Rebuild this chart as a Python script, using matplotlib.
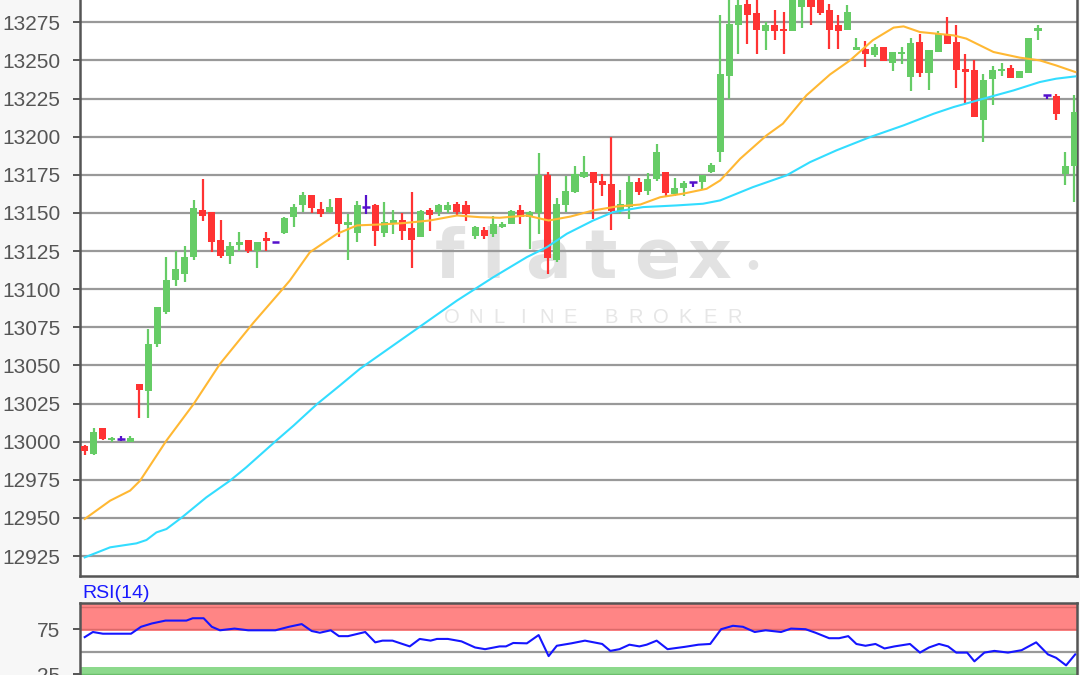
import matplotlib
matplotlib.use("Agg")
import matplotlib.pyplot as plt
import numpy as np

# OHLC
opens = [12997, 12992, 13009, 13001.5, 13002, 13000, 13038, 13033, 13064, 13085,
         13106, 13110, 13121, 13152, 13150.5, 13132, 13122, 13129, 13132, 13125,
         13133.5, 13131, 13136.5, 13147, 13155, 13162, 13152.5, 13150.5, 13159.5, 13142,
         13136.5, 13154, 13155, 13136.5, 13143, 13145.5, 13140, 13134, 13152, 13150.5,
         13152, 13156, 13155.5, 13135, 13139, 13136, 13141, 13143, 13152, 13147,
         13150, 13175, 13119, 13155, 13163.5, 13173.5, 13176.5, 13171, 13169, 13151.5,
         13154, 13170, 13164.5, 13172, 13176.5, 13162.5, 13166, 13170, 13170, 13176.5,
         13190, 13240, 13273, 13287, 13281, 13269.5, 13273, 13270, 13269.5, 13285,
         13293, 13296, 13283, 13273, 13270, 13257, 13257.5, 13253.5, 13259, 13248.5,
         13254, 13239, 13262, 13241.5, 13255.5, 13267.5, 13262, 13243.5, 13244, 13211,
         13237.5, 13243.5, 13245, 13238.5, 13241.5, 13269.5, 13227, 13226.5, 13175.5, 13181]
highs = [12998, 13009, 13009, 13003, 13003.5, 13004, 13038, 13074, 13088, 13121,
         13125, 13128, 13158.5, 13172, 13150.5, 13145.5, 13131, 13137.5, 13132, 13131,
         13137.5, 13131, 13147, 13156, 13163.5, 13162, 13157, 13159, 13159.5, 13149.5,
         13158, 13162, 13156, 13157, 13152, 13150, 13163.5, 13152, 13153, 13156,
         13157, 13157, 13158, 13141.5, 13141, 13148, 13144, 13152, 13155, 13151,
         13189, 13177, 13160, 13174.5, 13181, 13187.5, 13176.5, 13175.5, 13199.5, 13165,
         13174, 13173, 13176, 13195, 13176.5, 13173, 13171, 13170, 13175, 13183,
         13279.5, 13292, 13295, 13295, 13292, 13275, 13283, 13282, 13300, 13305,
         13298, 13300, 13287, 13280, 13286, 13265, 13263, 13261, 13259, 13255.5,
         13259, 13264.5, 13267, 13256.5, 13269, 13278.5, 13273, 13254.5, 13250, 13241,
         13246, 13248, 13247, 13243, 13265, 13273, 13227, 13228, 13190, 13227.5]
lows = [12991, 12991, 13001, 13000, 13000.5, 12999.5, 13015.5, 13015.5, 13062, 13084,
        13102, 13105, 13119, 13144.5, 13124.5, 13120.5, 13116.5, 13125, 13124, 13114,
        13125, 13131, 13136, 13140.5, 13150.5, 13150, 13147, 13150, 13134, 13119,
        13131, 13149.5, 13128.5, 13134, 13136, 13132, 13114, 13134, 13138, 13148,
        13150, 13148, 13145, 13133, 13133, 13134.5, 13140, 13143, 13143, 13126,
        13136, 13110, 13118, 13150.5, 13163, 13173, 13146, 13161, 13138.5, 13149,
        13146, 13162, 13162, 13171, 13161, 13161, 13161, 13167, 13165, 13176,
        13183.5, 13225, 13254.5, 13261, 13254.5, 13257, 13263.5, 13254.5, 13269.5, 13271,
        13273, 13279.5, 13257.5, 13257.5, 13270, 13256.5, 13245.5, 13252, 13249.5, 13243,
        13247.5, 13230, 13239, 13230.5, 13255.5, 13261, 13232, 13221.5, 13213, 13196.5,
        13220.5, 13240, 13238.5, 13238.5, 13241.5, 13263.5, 13225, 13211, 13168, 13157]
closes = [12994, 13006, 13001.5, 13002, 13002, 13002.5, 13034, 13064, 13088, 13106,
          13113, 13121, 13153, 13148, 13131, 13121.5, 13128, 13131, 13125, 13131,
          13131.5, 13131, 13146.5, 13154, 13162, 13153, 13149.5, 13154, 13143, 13144,
          13155, 13154, 13138, 13144, 13145.5, 13138, 13132.5, 13151.5, 13148.5, 13155,
          13155, 13150.5, 13149, 13141, 13135, 13142.5, 13143, 13151.5, 13147, 13150.5,
          13175, 13120.5, 13156, 13164.5, 13175.5, 13176.5, 13169.5, 13168, 13151.5, 13156,
          13170, 13163.5, 13172.5, 13190, 13163, 13166, 13169.5, 13170, 13175, 13181.5,
          13241, 13274, 13286, 13279.5, 13270, 13273, 13269.5, 13269.5, 13295, 13300,
          13285, 13281, 13270, 13269.5, 13281.5, 13259, 13254.5, 13258.5, 13249.5, 13255.5,
          13255.5, 13261.5, 13241.5, 13256.5, 13267.5, 13261, 13244, 13243, 13213, 13237,
          13243.5, 13244, 13238.5, 13243, 13265, 13271, 13227, 13215, 13181, 13216]

# moving averages (orange = fast, cyan = slow)
ma_fast_x = [0, 2.8, 5.0, 6.1, 9.0, 12.0, 14.9, 18.6, 21.5, 22.6, 24.8, 27.8, 30.0, 32.5,
             35.1, 38.0, 41.0, 43.5, 45.7, 48.7, 51.1, 53.5, 56.0, 58.6, 61.2, 63.4, 65.9,
             68.5, 70.0, 72.2, 75.1, 76.9, 79.5, 82.1, 84.3, 86.8, 89.1, 90.2, 92.0, 95.7,
             97.1, 100.1, 103.0, 105.2, 107.0, 109.1]
ma_fast = [12949.3, 12961.3, 12967.9, 12974.4, 13000.7, 13024.7, 13051, 13078.1, 13098,
           13105.7, 13124.2, 13136.3, 13141.8, 13142.4, 13143.3, 13145, 13148.3, 13147.2,
           13146.8, 13148.3, 13145, 13147.6, 13151.6, 13154.2, 13155.5, 13160.3, 13162.6,
           13165.8, 13171.3, 13185.5, 13200.8, 13208.5, 13227.1, 13240.8, 13250, 13263.2,
           13271.5, 13272.3, 13268.6, 13266.4, 13264.3, 13255.5, 13251.8, 13250, 13246.7,
           13242.4]
ma_slow_x = [0, 2.8, 5.7, 6.8, 7.9, 9.0, 10.7, 13.4, 16.0, 17.8, 21.1, 23.0, 25.6, 28.1,
             30.3, 41.0, 45.0, 48.7, 50.9, 53.1, 56.0, 58.2, 61.5, 65.2, 68.1, 70.0, 73.6,
             77.3, 79.9, 82.8, 86.5, 90.2, 93.5, 95.7, 99.0, 102.3, 105.2, 107.0, 109.1]
ma_slow = [12924.1, 12930.7, 12933.3, 12935.5, 12940.5, 12942.7, 12950.3, 12963.5, 12974.4,
           12983.2, 13000.7, 13010.5, 13024.7, 13036.8, 13047.7, 13092.5, 13107.8, 13121,
           13127.5, 13136.3, 13145, 13150.5, 13153.8, 13154.9, 13156, 13158.2, 13166.9,
           13174.6, 13183.3, 13191, 13199.7, 13207.4, 13215, 13219.4, 13224.9, 13230.3,
           13235.8, 13238, 13239.5]

# RSI(14)
rsi_x = [0, 0.9, 2.0, 5.1, 6.2, 7.4, 8.9, 11.2, 11.9, 13.1, 14.0, 14.9, 16.5, 18.0, 21.0,
         22.5, 23.9, 25.0, 25.9, 27.1, 28.0, 29.0, 30.9, 32.0, 32.8, 33.9, 35.8, 36.9, 38.1,
         38.8, 40.0, 41.5, 43.0, 44.1, 45.7, 46.4, 47.2, 48.7, 50.0, 51.1, 52.0, 53.6, 55.1,
         57.0, 57.9, 58.9, 60.0, 61.1, 61.9, 63.0, 64.2, 66.1, 67.6, 68.9, 70.1, 71.4, 72.5,
         73.8, 75.0, 76.7, 77.8, 79.4, 80.5, 82.0, 83.1, 84.1, 85.0, 86.0, 87.1, 88.1, 89.2,
         90.9, 92.0, 93.0, 94.1, 95.1, 96.0, 97.2, 98.0, 99.1, 100.2, 101.7, 103.2, 104.8,
         106.1, 107.0, 108.1, 109.1]
rsi = [66.2, 71.9, 70, 70, 77.7, 81.4, 84.6, 84.6, 87.2, 87.2, 77.7, 73.8, 75.7, 73.8, 73.8,
       77.7, 80.7, 73, 71.1, 73.8, 67.3, 67.3, 71.9, 60.4, 62.3, 62.3, 55.9, 64.2, 62.3,
       64.2, 64.2, 61.5, 54.7, 52.8, 55.9, 55.9, 59.7, 59.3, 68.5, 45.1, 56.6, 59.3, 62.3,
       58.6, 50.9, 52.8, 57.8, 55.9, 57.8, 62.3, 52.8, 55.4, 57.8, 58.6, 75, 78.8, 77.7,
       71.9, 73.8, 71.9, 75.7, 75, 71.1, 65, 65, 67.3, 58.6, 56.6, 58.6, 53.6, 55.9,
       58.6, 49, 54.7, 58.6, 55.9, 49, 49, 39.3, 49, 50.9, 49, 51.7, 60.4,
       47, 43.2, 34.8, 47]

y_ticks = list(range(12925, 13276, 25))
rsi_ticks = [25, 75]

GREEN = '#66cc66'
RED = '#ff3333'
PURPLE = '#5511cc'
GRID = '#999999'
SPINE = '#555555'
LABEL = '#555555'
WMARK = '#e2e2e2'

plt.rcParams['font.family'] = ['Liberation Sans', 'DejaVu Sans']

W, H = 1080, 675


def px(x0, y0, x1, y1):
    # pixel box (top-left origin) -> figure fraction rect
    return [x0 / W, 1 - y1 / H, (x1 - x0) / W, (y1 - y0) / H]


fig = plt.figure(figsize=(W / 100, H / 100), dpi=100, facecolor='#f7f7f7')
ax = fig.add_axes(px(80, 0, 1077, 576))
rsi_ax = fig.add_axes(px(80, 603.4, 1077, 675), sharex=ax)
ax.set_facecolor('white')

# watermark, behind the grid
tf = fig.transFigure
for ch, xc in zip("flatex", [450, 493, 548, 600, 657, 710]):
    ax.text(xc / W, 1 - 278 / H, ch, transform=tf, fontsize=49, fontweight='bold',
            color=WMARK, family='DejaVu Sans', ha='center', va='baseline', zorder=0.2)
ax.text(753 / W, 1 - 264 / H, '●', transform=tf, fontsize=9, color=WMARK,
        family='DejaVu Sans', ha='center', va='center', zorder=0.2)
for i, ch in enumerate("ONLINE"):
    ax.text((452 + i * 23.6) / W, 1 - 323 / H, ch, transform=tf, fontsize=14.5,
            color='#e6e6e6', ha='center', va='baseline', zorder=0.2)
for i, ch in enumerate("BROKER"):
    ax.text((611 + i * 24.8) / W, 1 - 323 / H, ch, transform=tf, fontsize=14.5,
            color='#e6e6e6', ha='center', va='baseline', zorder=0.2)

# candles
o = np.array(opens, dtype=float)
c = np.array(closes, dtype=float)
h = np.array(highs, dtype=float)
lo = np.array(lows, dtype=float)
idx = np.arange(len(o))
flat = c == o
cols = np.where(c > o, GREEN, np.where(c < o, RED, PURPLE))

ax.vlines(idx, lo, h, colors=cols, linewidth=1.6, zorder=3)
body_h = np.maximum(np.abs(c - o), 1.6)
body_lo = np.where(np.abs(c - o) < 1.6, (o + c) / 2 - 0.8, np.minimum(o, c))
ax.bar(idx[~flat], body_h[~flat], bottom=body_lo[~flat], width=0.78,
       color=cols[~flat], linewidth=0, zorder=4)
ax.hlines(c[flat], idx[flat] - 0.42, idx[flat] + 0.42, colors=PURPLE, linewidth=1.8, zorder=4)

ax.plot(ma_fast_x, ma_fast, color='#ffb833', linewidth=1.5, zorder=5)
ax.plot(ma_slow_x, ma_slow, color='#33ddff', linewidth=1.5, zorder=5)

ax.set_xlim(-0.52, 109.3)
ax.set_ylim(12911.9, 13289.6)
ax.set_yticks(y_ticks)
ax.yaxis.grid(True, color=GRID, linewidth=1.6)
ax.set_axisbelow(True)
ax.tick_params(axis='y', length=5, width=1.4, color=SPINE, labelsize=15,
               labelcolor=LABEL, pad=9)
ax.tick_params(axis='x', bottom=False, labelbottom=False)
ax.spines['top'].set_visible(False)
for s in ['left', 'right', 'bottom']:
    ax.spines[s].set_color(SPINE)
    ax.spines[s].set_linewidth(1.8)

# RSI panel
rsi_ax.set_facecolor('white')
rsi_ax.axhspan(72.5, 102.8, color='#ff8585', linewidth=0, zorder=1)
rsi_ax.axhline(75, color='#dd6a6a', linewidth=1.0, zorder=1.5)
rsi_ax.axhline(100, color='#dd6a6a', linewidth=1.0, zorder=1.5)
rsi_ax.axhspan(0, 33.5, color='#8cd98c', linewidth=0, zorder=1)
rsi_ax.axhline(25, color='#6cbf6c', linewidth=1.0, zorder=1.5)
rsi_ax.axhline(50, color=GRID, linewidth=1.6, zorder=1.5)
rsi_ax.plot(rsi_x, rsi, color='#1515ff', linewidth=1.5, zorder=3)
rsi_ax.set_ylim(24.1, 103.7)
rsi_ax.set_yticks(rsi_ticks)
rsi_ax.tick_params(axis='y', length=5, width=1.4, color=SPINE, labelsize=15,
                   labelcolor=LABEL, pad=9)
rsi_ax.tick_params(axis='x', bottom=False, labelbottom=False)
rsi_ax.spines['bottom'].set_visible(False)
for s in ['left', 'right', 'top']:
    rsi_ax.spines[s].set_color(SPINE)
    rsi_ax.spines[s].set_linewidth(1.8)

fig.text(82 / W, 1 - 598 / H, 'RSI(14)', color='#1a1aff', fontsize=14, va='baseline')

fig.savefig('out.png', dpi=100, facecolor=fig.get_facecolor())
